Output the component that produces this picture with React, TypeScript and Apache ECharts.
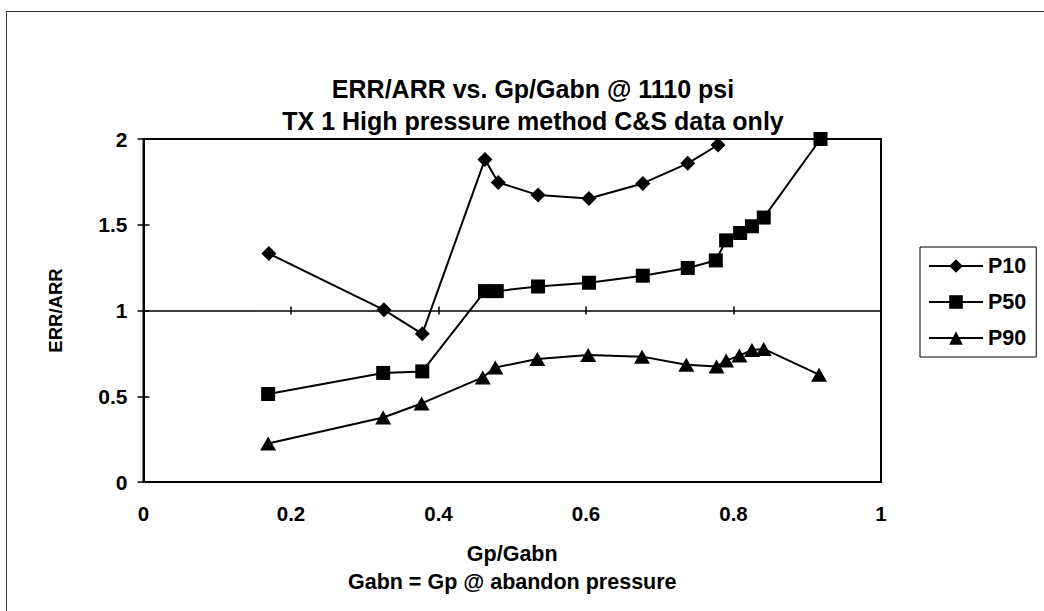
import React, { useEffect, useRef } from "react";
import * as echarts from "echarts";

const TITLE_LINES = ["ERR/ARR vs. Gp/Gabn @ 1110 psi", "TX 1 High pressure method C&S data only"];
const X_TITLE_LINES = ["Gp/Gabn", "Gabn = Gp @ abandon pressure"];
const Y_TITLE = "ERR/ARR";
const SERIES_NAMES = ["P10", "P50", "P90"];

const P10_X = [0.170, 0.326, 0.378, 0.463, 0.481, 0.535, 0.604, 0.677, 0.738, 0.779, 0.790];
const P10_Y = [1.332, 1.004, 0.864, 1.881, 1.747, 1.673, 1.653, 1.741, 1.858, 1.965, 2.2];

const P50_X = [0.169, 0.325, 0.378, 0.463, 0.479, 0.535, 0.604, 0.677, 0.738, 0.776, 0.790, 0.809, 0.825, 0.841, 0.918];
const P50_Y = [0.513, 0.636, 0.645, 1.113, 1.113, 1.140, 1.162, 1.203, 1.248, 1.292, 1.409, 1.452, 1.491, 1.542, 2.0];

const P90_X = [0.169, 0.325, 0.377, 0.460, 0.477, 0.534, 0.603, 0.676, 0.736, 0.777, 0.790, 0.808, 0.825, 0.841, 0.916];
const P90_Y = [0.224, 0.376, 0.458, 0.610, 0.668, 0.717, 0.741, 0.731, 0.684, 0.673, 0.708, 0.737, 0.770, 0.776, 0.626];

const X_MIN = 0, X_MAX = 1, X_STEP = 0.2;
const Y_MIN = 0, Y_MAX = 2, Y_STEP = 0.5;

const FONT = "'Liberation Sans', Arial, sans-serif";

function pairs(xs: number[], ys: number[]) {
  return xs.map((x, i) => [x, ys[i]]);
}

export default function App() {
  const ref = useRef<HTMLDivElement>(null);
  useEffect(() => {
    if (!ref.current) return;
    const chart = echarts.init(ref.current, null, { renderer: "svg" });
    const baseText = { color: "#000", fontFamily: FONT, fontWeight: "bold" as const };
    const mkSeries = (name: string, xs: number[], ys: number[], symbol: string, size: any) => ({
      name,
      type: "line",
      xAxisIndex: 0,
      yAxisIndex: 0,
      data: pairs(xs, ys),
      symbol,
      symbolSize: size,
      clip: true,
      lineStyle: { color: "#000", width: 2 },
      itemStyle: { color: "#000", borderColor: "#000", borderWidth: 0 },
      emphasis: { disabled: true },
    });
    chart.setOption({
      animation: false,
      backgroundColor: "#fff",
      title: {
        text: TITLE_LINES.join("\n"),
        left: 528,
        textAlign: "center",
        top: 68,
        textStyle: { ...baseText, fontSize: 25, lineHeight: 32 },
      },
      legend: {
        orient: "vertical",
        left: 920,
        top: 247,
        data: SERIES_NAMES,
        itemWidth: 54,
        itemHeight: 17,
        itemGap: 14,
        padding: [8, 10, 8, 8],
        borderColor: "#000",
        borderWidth: 1,
        backgroundColor: "#fff",
        textStyle: { ...baseText, fontSize: 21.5, lineHeight: 20 },
      },
      grid: {
        left: 143.5,
        right: 163,
        top: 139,
        bottom: 129,
        show: true,
        borderColor: "#000",
        borderWidth: 2,
        backgroundColor: "transparent",
      },
      xAxis: [
        {
          type: "value",
          position: "bottom",
          min: X_MIN,
          max: X_MAX,
          interval: X_STEP,
          axisLine: { show: false, onZero: false },
          axisTick: { show: false },
          splitLine: { show: false },
          axisLabel: { ...baseText, fontSize: 20.5, margin: 21 },
          name: X_TITLE_LINES.join("\n"),
          nameLocation: "middle",
          nameGap: 58,
          nameTextStyle: { ...baseText, fontSize: 21.5, lineHeight: 28 },
        },
        {
          type: "value",
          position: "bottom",
          min: X_MIN,
          max: X_MAX,
          interval: X_STEP,
          axisLine: { show: true, onZero: true, onZeroAxisIndex: 2, lineStyle: { color: "#000", width: 1.5 } },
          axisTick: { show: true, length: 4, inside: false, lineStyle: { color: "#000", width: 1.5 } },
          axisLabel: { show: false },
          splitLine: { show: false },
        },
        {
          type: "value",
          position: "top",
          min: X_MIN,
          max: X_MAX,
          interval: X_STEP,
          axisLine: { show: false, onZero: true, onZeroAxisIndex: 2 },
          axisTick: { show: true, length: 4, inside: false, lineStyle: { color: "#000", width: 1.5 } },
          axisLabel: { show: false },
          splitLine: { show: false },
        },
      ],
      yAxis: [
        {
          type: "value",
          position: "left",
          min: Y_MIN,
          max: Y_MAX,
          interval: Y_STEP,
          axisLine: { show: true, onZero: false, lineStyle: { color: "#000", width: 2 } },
          axisTick: { show: true, length: 6, lineStyle: { color: "#000", width: 1.5 } },
          splitLine: { show: false },
          axisLabel: { ...baseText, fontSize: 21, margin: 16 },
          name: Y_TITLE,
          nameLocation: "middle",
          nameGap: 79,
          nameTextStyle: { ...baseText, fontSize: 18.5 },
        },
        {
          type: "value",
          position: "left",
          min: Y_MIN,
          max: Y_MAX,
          interval: Y_STEP,
          axisLine: { show: false, onZero: false },
          axisTick: { show: true, inside: true, length: 6, lineStyle: { color: "#000", width: 1.5 } },
          splitLine: { show: false },
          axisLabel: { show: false },
        },
        {
          type: "value",
          position: "right",
          min: -1,
          max: 1,
          interval: 1,
          show: false,
        },
      ],
      graphic: [
        {
          type: "rect",
          silent: true,
          shape: { x: 6.5, y: 11.5, width: 1100, height: 700 },
          style: { fill: "none", stroke: "#333", lineWidth: 1 },
          z: -1,
        },
      ],
      series: [
        mkSeries(SERIES_NAMES[0], P10_X, P10_Y, "diamond", 15),
        mkSeries(SERIES_NAMES[1], P50_X, P50_Y, "rect", 14),
        mkSeries(SERIES_NAMES[2], P90_X, P90_Y, "triangle", [16, 14]),
      ],
    });
    return () => chart.dispose();
  }, []);
  return (
    <div
      ref={ref}
      style={{ position: "fixed", left: 0, top: 0, width: 1044, height: 611, background: "#fff" }}
    />
  );
}
